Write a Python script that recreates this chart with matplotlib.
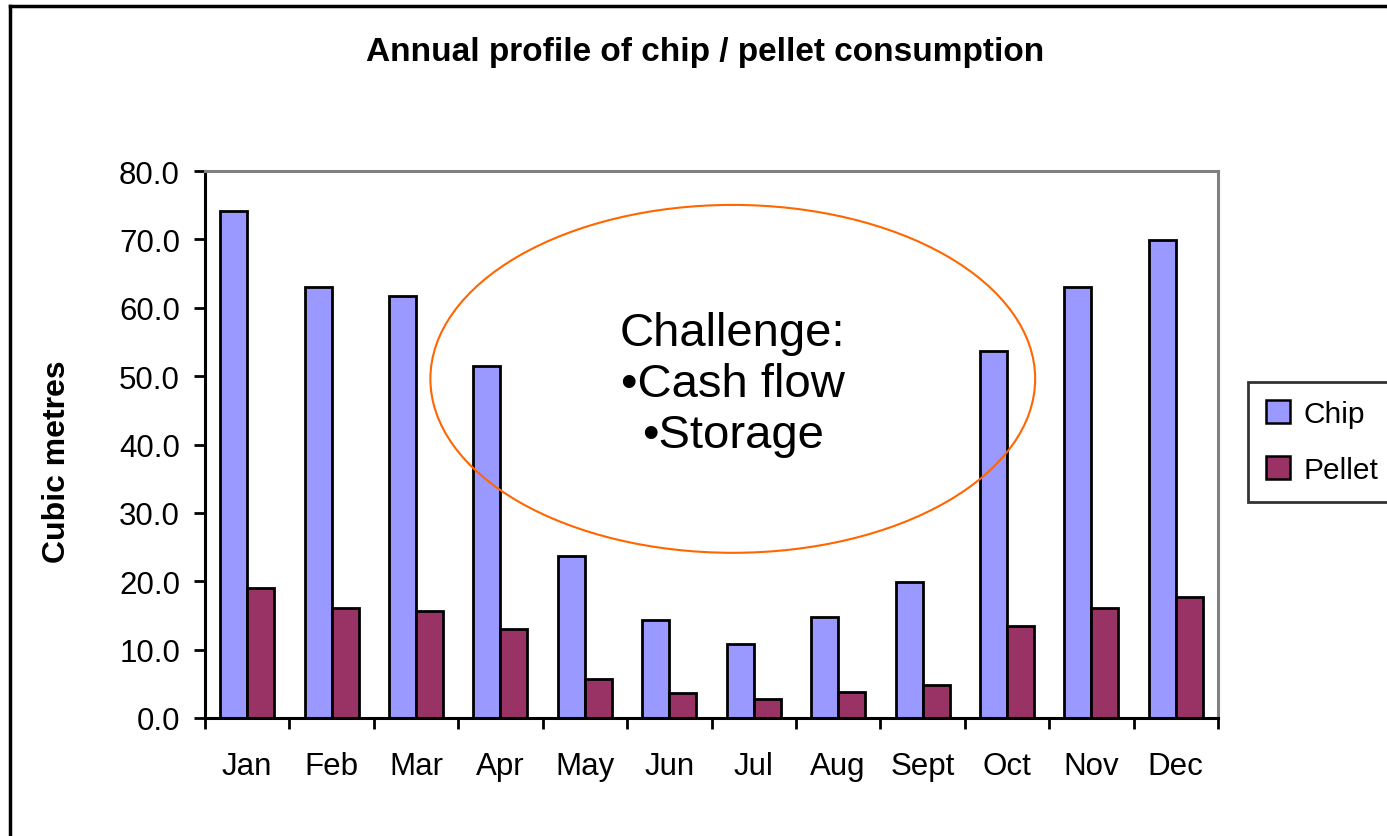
import numpy as np
import matplotlib
matplotlib.use('Agg')
import matplotlib.pyplot as plt
from matplotlib.patches import Ellipse
from matplotlib.lines import Line2D

plt.rcParams['font.family'] = ['Liberation Sans', 'DejaVu Sans']

months = ['Jan', 'Feb', 'Mar', 'Apr', 'May', 'Jun', 'Jul', 'Aug', 'Sept', 'Oct', 'Nov', 'Dec']
chip = [74.1, 63.0, 61.7, 51.5, 23.7, 14.3, 10.8, 14.8, 19.9, 53.7, 63.0, 69.9]
pellet = [19.0, 16.1, 15.6, 13.0, 5.7, 3.7, 2.8, 3.8, 4.8, 13.5, 16.1, 17.7]

fig = plt.figure(figsize=(13.87, 8.37), dpi=100)
ax = fig.add_axes([205/1387, 1-719/837, (1218-205)/1387, (719-172)/837])

x = np.arange(len(months))
w = 0.32
ax.bar(x - w/2, chip, w, color='#9999FF', edgecolor='black', linewidth=2.0, label='Chip')
ax.bar(x + w/2, pellet, w, color='#993366', edgecolor='black', linewidth=2.0, label='Pellet')

ax.set_xlim(-0.5, len(months) - 0.5)
ax.set_ylim(0, 80)
ax.set_yticks(np.arange(0, 81, 10))
ax.set_yticklabels(['%.1f' % v for v in np.arange(0, 81, 10)], fontsize=22.5)
ax.tick_params(axis='y', direction='out', length=8, width=2, pad=10, color='black')

# ticks between months, labels at centres
ax.set_xticks(np.arange(-0.5, len(months), 1))
ax.set_xticklabels([])
ax.set_xticks(x, minor=True)
ax.set_xticklabels(months, minor=True, fontsize=22.5)
ax.tick_params(axis='x', which='major', direction='out', length=8, width=2, color='black')
ax.tick_params(axis='x', which='minor', length=0, pad=24)

for s in ['left', 'bottom']:
    ax.spines[s].set_color('black')
    ax.spines[s].set_linewidth(2.2)
for s in ['top', 'right']:
    ax.spines[s].set_color('#808080')
    ax.spines[s].set_linewidth(2.2)

ax.set_ylabel('Cubic metres', fontsize=23, fontweight='bold')
ax.yaxis.set_label_coords(-0.131, 0.47)

ax.add_patch(Ellipse((0.521, 0.620), 0.597, 0.636, transform=ax.transAxes,
                     fill=False, edgecolor='#FF6600', linewidth=1.5, clip_on=False))
ax.text(0.521, 0.611, 'Challenge:\n•Cash flow\n•Storage', transform=ax.transAxes,
        ha='center', va='center', fontsize=34, linespacing=1.2)

fig.text(705/1387, 1-52/837, 'Annual profile of chip / pellet consumption',
         ha='center', va='center', fontsize=24, fontweight='bold')

leg = fig.legend(loc='upper left', bbox_to_anchor=(1248/1387, 1-383/837),
                 borderaxespad=0, fontsize=21.5, frameon=True, fancybox=False,
                 handlelength=0.8, handleheight=0.8, handletextpad=0.45,
                 labelspacing=0.95, borderpad=0.6)
leg.get_frame().set_edgecolor('black')
leg.get_frame().set_linewidth(2)
for h in leg.legend_handles:
    h.set_linewidth(1.8)

# outer chart frame
fig.add_artist(Line2D([10/1387, 10/1387], [0, 1-7/837], transform=fig.transFigure,
                      color='black', linewidth=2.5))
fig.add_artist(Line2D([10/1387, 1], [1-7/837, 1-7/837], transform=fig.transFigure,
                      color='black', linewidth=2.5))

fig.savefig('out.png', dpi=100)
